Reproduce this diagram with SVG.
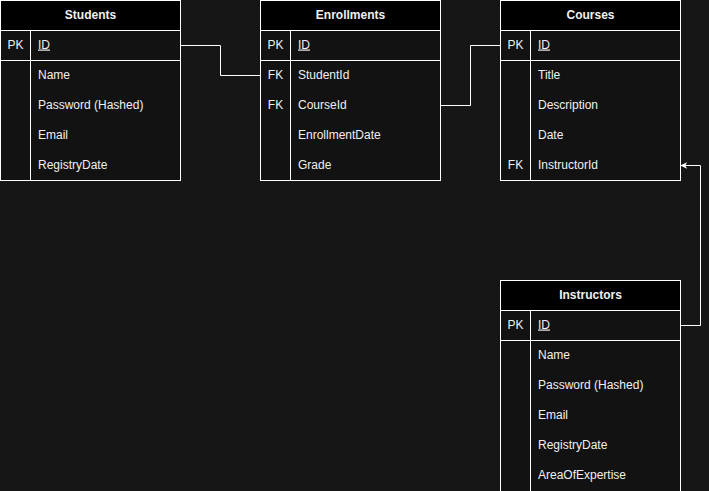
<svg xmlns="http://www.w3.org/2000/svg" width="709" height="491" viewBox="0 0 709 491">
<style>
.bg{fill:#161616}
.hdr{fill:#000000;stroke:#ffffff;stroke-width:1}
.body{fill:#121212;stroke:#ffffff;stroke-width:1}
.ln{stroke:#ffffff;stroke-width:1;fill:none}
text{font-family:"Liberation Sans",Arial,Helvetica,sans-serif;font-size:12px;fill:#f0f0f0}
.title{font-weight:bold;text-anchor:middle}
.key{text-anchor:middle}
.pk{text-decoration:underline}
.conn{stroke:#ffffff;stroke-width:1;fill:none}
</style>
<defs>
<marker id="arr" viewBox="0 0 10 10" refX="9" refY="5" markerWidth="7" markerHeight="7" orient="auto" markerUnits="userSpaceOnUse">
<path d="M0,0 L10,5 L0,10 L3,5 Z" fill="#ffffff"/>
</marker>
</defs>
<rect class="bg" x="0" y="0" width="709" height="491"/>

<g id="connectors">
<path class="conn" d="M180.5,45.5 H220.5 V75.5 H260.5"/>
<path class="conn" d="M440.5,105.5 H470.5 V45.5 H500.5"/>
<path class="conn" d="M680.5,325.5 H700.5 V165.5 H681" marker-end="url(#arr)"/>
</g>

<g id="students">
<rect class="body" x="0.5" y="0.5" width="180" height="180"/>
<rect class="hdr" x="0.5" y="0.5" width="180" height="30"/>
<line class="ln" x1="0.5" y1="60.5" x2="180.5" y2="60.5"/>
<line class="ln" x1="30.5" y1="30.5" x2="30.5" y2="180.5"/>
<text class="title" x="90.5" y="18.5">Students</text>
<text class="key" x="15.5" y="48.5">PK</text>
<text class="pk" x="38" y="48.5">ID</text>
<text x="38" y="78.5">Name</text>
<text x="38" y="108.5">Password (Hashed)</text>
<text x="38" y="138.5">Email</text>
<text x="38" y="168.5">RegistryDate</text>
</g>

<g id="enrollments">
<rect class="body" x="260.5" y="0.5" width="180" height="180"/>
<rect class="hdr" x="260.5" y="0.5" width="180" height="30"/>
<line class="ln" x1="260.5" y1="60.5" x2="440.5" y2="60.5"/>
<line class="ln" x1="290.5" y1="30.5" x2="290.5" y2="180.5"/>
<text class="title" x="350.5" y="18.5">Enrollments</text>
<text class="key" x="275.5" y="48.5">PK</text>
<text class="pk" x="298" y="48.5">ID</text>
<text class="key" x="275.5" y="78.5">FK</text>
<text x="298" y="78.5">StudentId</text>
<text class="key" x="275.5" y="108.5">FK</text>
<text x="298" y="108.5">CourseId</text>
<text x="298" y="138.5">EnrollmentDate</text>
<text x="298" y="168.5">Grade</text>
</g>

<g id="courses">
<rect class="body" x="500.5" y="0.5" width="180" height="180"/>
<rect class="hdr" x="500.5" y="0.5" width="180" height="30"/>
<line class="ln" x1="500.5" y1="60.5" x2="680.5" y2="60.5"/>
<line class="ln" x1="530.5" y1="30.5" x2="530.5" y2="180.5"/>
<text class="title" x="590.5" y="18.5">Courses</text>
<text class="key" x="515.5" y="48.5">PK</text>
<text class="pk" x="538" y="48.5">ID</text>
<text x="538" y="78.5">Title</text>
<text x="538" y="108.5">Description</text>
<text x="538" y="138.5">Date</text>
<text class="key" x="515.5" y="168.5">FK</text>
<text x="538" y="168.5">InstructorId</text>
</g>

<g id="instructors">
<rect class="body" x="500.5" y="280.5" width="180" height="212"/>
<rect class="hdr" x="500.5" y="280.5" width="180" height="30"/>
<line class="ln" x1="500.5" y1="340.5" x2="680.5" y2="340.5"/>
<line class="ln" x1="530.5" y1="310.5" x2="530.5" y2="492"/>
<text class="title" x="590.5" y="298.5">Instructors</text>
<text class="key" x="515.5" y="328.5">PK</text>
<text class="pk" x="538" y="328.5">ID</text>
<text x="538" y="358.5">Name</text>
<text x="538" y="388.5">Password (Hashed)</text>
<text x="538" y="418.5">Email</text>
<text x="538" y="448.5">RegistryDate</text>
<text x="538" y="478.5">AreaOfExpertise</text>
</g>
</svg>
